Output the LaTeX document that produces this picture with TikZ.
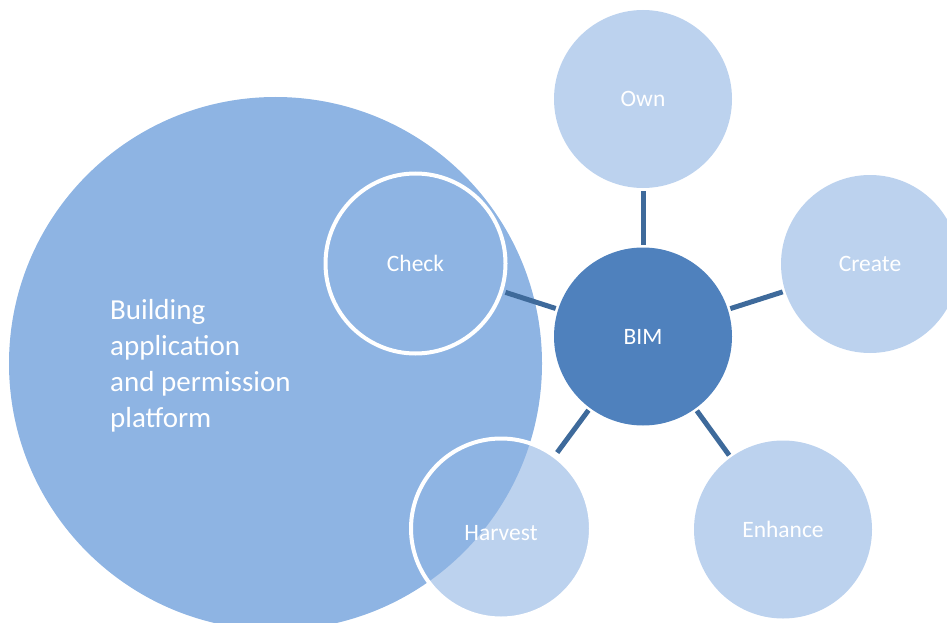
\documentclass[tikz,border=0pt]{standalone}
\usepackage{fontspec}
\setmainfont{Carlito}
\definecolor{platformblue}{HTML}{8EB4E3}
\definecolor{toolblue}{HTML}{BCD2EE}
\definecolor{bimblue}{HTML}{4F81BD}
\definecolor{linkblue}{HTML}{3E6A9B}
\begin{document}
\begin{tikzpicture}[x=1pt,y=-1pt,
    tool/.style={circle,fill=toolblue,minimum size=178pt,inner sep=0pt,text=white,font=\fontsize{23.5}{28}\selectfont},
    ringtool/.style={tool,draw=white,line width=4pt,minimum size=180pt},
    connector/.style={color=linkblue,line width=5pt,shorten <=2.5pt,shorten >=2.5pt}]
      \clip (0,0) rectangle (947,623);
      \node[tool] (harvestfill) at (501,528.5) {};
      \node[circle,fill=platformblue,minimum size=533pt,inner sep=0pt] (platform) at (275.5,363.5) {};
      \node[anchor=base west,align=left,text=white,font=\fontsize{29}{36}\selectfont,inner sep=0pt]
        (platformtext) at (110,427) {Building\\application\\and permission\\platform};
      \node[ringtool,fill=platformblue] (check) at (415.5,263.5) {Check};
      \node[ringtool,fill=none,text height=24pt,text depth=0pt] (harvest) at (harvestfill) {Harvest};
      \node[tool,fill=bimblue] (bim) at (643,336.5) {BIM};
      \node[tool] (own) at (643,99) {Own};
      \node[tool] (create) at (870,264) {Create};
      \node[tool] (enhance) at (783,529.5) {Enhance};
      \begin{scope}[connector]
        \draw (bim) to (own);
        \draw (bim) to (create);
        \draw (bim) to (enhance);
        \draw (bim) to (harvest);
        \draw (bim) to (check);
      \end{scope}
    \end{tikzpicture}
\end{document}
